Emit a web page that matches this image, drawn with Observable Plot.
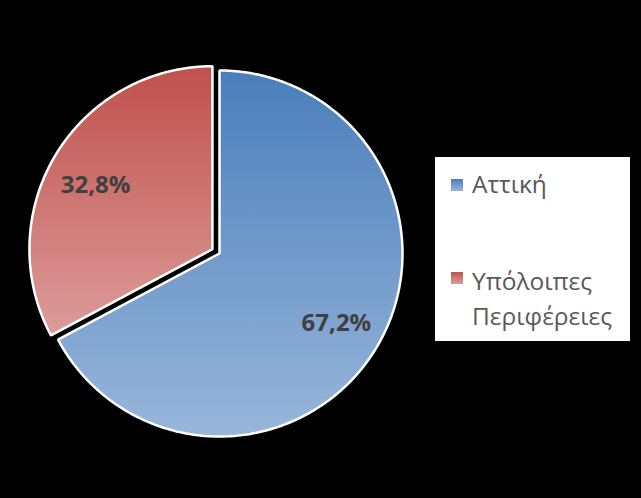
<!DOCTYPE html>
<html>
<head>
<meta charset="utf-8">
<script src="https://cdn.jsdelivr.net/npm/d3@7"></script>
<script src="https://cdn.jsdelivr.net/npm/@observablehq/plot@0.6"></script>
<style>
  html, body { margin: 0; padding: 0; background: #000; }
  #wrap { position: relative; width: 641px; height: 498px; overflow: hidden; background: #000; }
  #legend { position: absolute; left: 435px; top: 157px; width: 195px; height: 184px; background: #fff;
    font-family: "Open Sans", sans-serif; color: #595959; font-size: 24.5px; }
  .sw { position: absolute; width: 12px; height: 12px; }
  .lbl { position: absolute; left: 37px; line-height: 35px; white-space: nowrap; }
</style>
</head>
<body>
<div id="wrap"></div>
<script>
const categories = ["Αττική", "Υπόλοιπες Περιφέρειες"];
const shares = [67.2, 32.8];
const shareLabels = ["67,2%", "32,8%"];
const legendLines = [["Αττική"], ["Υπόλοιπες", "Περιφέρειες"]];
const explode = [0, 0.045];
const gradTop = ["#4a7ebb", "#c0504d"];
const gradBottom = ["#98b6da", "#dc9c9a"];
const gradId = ["gBlue", "gRed"];

const pie = d3.pie().sort(null).value(d => d)(shares);

// arc outline points in data units (radius 1)
const slices = pie.map((p, i) => {
  const mid = (p.startAngle + p.endAngle) / 2;
  const ox = Math.sin(mid) * explode[i], oy = Math.cos(mid) * explode[i];
  const pts = [{x: ox, y: oy}];
  const n = 240;
  for (let k = 0; k <= n; k++) {
    const a = p.startAngle + (p.endAngle - p.startAngle) * k / n;
    pts.push({x: ox + Math.sin(a), y: oy + Math.cos(a)});
  }
  return pts;
});
const labelData = pie.map((p, i) => {
  const mid = (p.startAngle + p.endAngle) / 2;
  const r = 0.745 + explode[i];
  return {x: Math.sin(mid) * r, y: Math.cos(mid) * r, text: shareLabels[i]};
});

const labelStyle = {x: "x", y: "y", text: "text", fontSize: 24, fontWeight: "bold",
  fill: "#404040", fontFamily: "Open Sans, sans-serif"};

const chart = Plot.plot({
  width: 641,
  height: 498,
  margin: 0,
  style: {background: "#000"},
  x: {domain: [-1, 1], range: [36, 402], axis: null},
  y: {domain: [-1, 1], range: [436, 70], axis: null},
  marks: [
    ...slices.map((pts, i) => Plot.line(pts, {
      x: "x", y: "y", curve: "linear-closed",
      fill: `url(#${gradId[i]})`, stroke: "#fff", strokeWidth: 2.5, strokeLinejoin: "miter"
    })),
    Plot.text([labelData[0]], labelStyle),
    Plot.text([labelData[1]], {...labelStyle, dy: 6})
  ]
});

const defs = d3.select(chart).insert("defs", ":first-child");
gradId.forEach((id, i) => {
  const g = defs.append("linearGradient").attr("id", id)
    .attr("x1", 0).attr("y1", 0).attr("x2", 0).attr("y2", 1);
  g.append("stop").attr("offset", "0%").attr("stop-color", gradTop[i]);
  g.append("stop").attr("offset", "100%").attr("stop-color", gradBottom[i]);
});

const wrap = document.getElementById("wrap");
wrap.appendChild(chart);

const legend = document.createElement("div");
legend.id = "legend";
const swTop = [22, 115];
const txtTop = [9, 106];
legendLines.forEach((lines, i) => {
  const sw = document.createElement("div");
  sw.className = "sw";
  sw.style.left = "16px";
  sw.style.top = swTop[i] + "px";
  sw.style.background = `linear-gradient(${gradTop[i]}, ${gradBottom[i]})`;
  legend.appendChild(sw);
  lines.forEach((t, j) => {
    const s = document.createElement("div");
    s.className = "lbl";
    s.style.top = (txtTop[i] + j * 35) + "px";
    s.textContent = t;
    legend.appendChild(s);
  });
});
wrap.appendChild(legend);
</script>
</body>
</html>
